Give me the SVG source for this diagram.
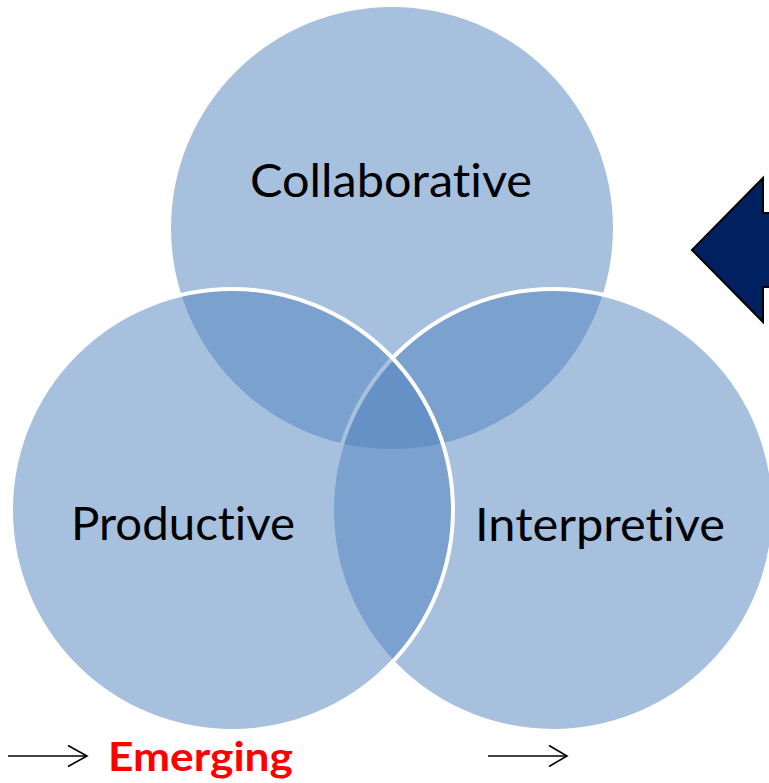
<svg xmlns="http://www.w3.org/2000/svg" width="769" height="783" viewBox="0 0 769 783">
  <defs>
    <style>
      .circle { fill: #4F81BD; fill-opacity: 0.5; }
      .outlined { stroke: #FFFFFF; stroke-width: 4; }
      text { font-variant-ligatures: none; font-feature-settings: "liga" 0, "clig" 0; }
      .label { font-family: Lato, "Open Sans", "Liberation Sans", sans-serif; font-size: 47px; fill: #000000; }
      .emph { font-family: Lato, "Open Sans", "Liberation Sans", sans-serif; font-size: 40px; font-weight: bold; fill: #FF0000; }
      .arrow-line { stroke: #000000; stroke-width: 1.6; fill: none; }
      .chevron { stroke: #000000; stroke-width: 1.6; fill: none; stroke-linejoin: miter; }
      .block-arrow { fill: #002060; stroke: #000000; stroke-width: 2; stroke-linejoin: miter; }
    </style>
  </defs>
  <rect x="0" y="0" width="769" height="783" fill="#FFFFFF"/>

  <!-- Venn circles: top first, then right, left last so its outline stays on top -->
  <g id="node-collaborative">
    <circle class="circle" cx="392" cy="228" r="221"/>
  </g>
  <g id="node-interpretive">
    <circle class="circle outlined" cx="553" cy="510" r="221"/>
  </g>
  <g id="node-productive">
    <circle class="circle outlined" cx="232" cy="510" r="221"/>
  </g>

  <!-- Labels -->
  <g id="labels">
    <text class="label" x="250" y="197" textLength="282" lengthAdjust="spacingAndGlyphs">Collaborative</text>
    <text class="label" x="71" y="540" textLength="224" lengthAdjust="spacingAndGlyphs">Productive</text>
    <text class="label" x="475" y="541" textLength="250" lengthAdjust="spacingAndGlyphs">Interpretive</text>
  </g>

  <!-- Block arrow pointing left -->
  <g id="node-block-arrow">
    <polygon class="block-arrow" points="692,250 763,178 763,213 790,213 790,287 763,287 763,322"/>
  </g>

  <!-- Small line arrows along the bottom -->
  <g id="connectors">
    <line class="arrow-line" x1="8" y1="756" x2="87" y2="756"/>
    <polyline class="chevron" points="68,745.5 87,756 68,766.5"/>
    <line class="arrow-line" x1="488" y1="756" x2="567" y2="756"/>
    <polyline class="chevron" points="549,745.5 567,756 549,766.5"/>
  </g>

  <g id="node-emerging">
    <text class="emph" x="108" y="771" textLength="185" lengthAdjust="spacingAndGlyphs">Emerging</text>
  </g>
</svg>
